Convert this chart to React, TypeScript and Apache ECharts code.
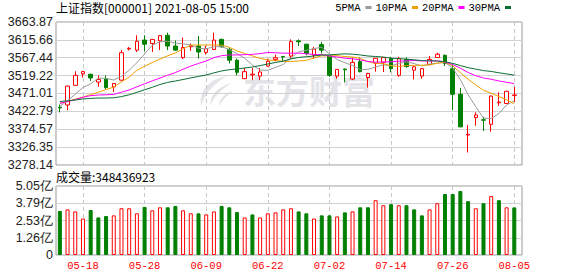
import React, { useEffect, useRef } from 'react';
import * as echarts from 'echarts';

const dates = ['05-13','05-14','05-17','05-18','05-19','05-20','05-21','05-24','05-25','05-26','05-27','05-28','05-31','06-01','06-02','06-03','06-04','06-07','06-08','06-09','06-10','06-11','06-15','06-16','06-17','06-18','06-21','06-22','06-23','06-24','06-25','06-28','06-29','06-30','07-01','07-02','07-05','07-06','07-07','07-08','07-09','07-12','07-13','07-14','07-15','07-16','07-19','07-20','07-21','07-22','07-23','07-26','07-27','07-28','07-29','07-30','08-02','08-03','08-04','08-05'];

const opens = [3434,3440,3493,3524,3523,3502,3510,3489,3507,3591,3588,3615,3606,3613,3628,3599,3568,3597,3599,3582,3590,3617,3590,3561,3511,3521,3518,3545,3563,3571,3572,3613,3604,3574,3603,3572,3518,3537,3510,3557,3514,3553,3555,3565,3520,3563,3534,3518,3549,3568,3574,3538,3469,3359,3406,3400,3388,3446,3444,3466];
const closes = [3432,3491,3520,3530,3513,3509,3487,3498,3581,3593,3612,3604,3617,3627,3599,3588,3595,3600,3583,3592,3615,3597,3561,3528,3530,3523,3529,3558,3567.5,3569.5,3611,3610.5,3579,3591,3588,3520,3536,3535,3555,3530,3525,3566,3568,3538,3565,3544,3543,3538,3563,3577,3552,3469,3381,3361,3413,3399,3464,3448,3477,3467];
const lows = [3420,3426,3491,3514,3505,3489,3483,3475,3505,3587,3583,3585,3583,3588,3588,3586,3564,3586,3565,3576,3588,3595,3552,3520,3510,3507,3507,3543,3558,3558,3565,3599,3574,3565,3579,3516,3511,3501,3507,3528,3487,3530,3529,3528,3516,3540,3509,3511,3548,3567,3545,3426,3380,3312,3384,3370,3368,3438,3443,3448];
const highs = [3441,3492,3531,3532,3524,3520,3520,3499,3588,3596,3628,3628,3618,3628,3635,3614,3622,3606,3626,3599,3635,3619,3595,3565,3540,3540,3540,3565,3576,3572,3617,3617,3605,3597,3610,3574,3537,3538,3568,3568,3527,3567,3569,3570,3570,3568,3545,3539,3572,3581,3576,3552,3486,3386,3420,3408,3466,3474,3478,3489];

// volume in 亿 (1e8)
const volumes = [3.22,3.34,3.19,2.67,3.29,2.75,2.85,2.90,3.42,3.42,3.05,3.52,3.27,3.49,3.49,3.59,3.27,3.05,3.05,2.97,3.19,3.59,3.49,3.14,2.75,2.97,2.75,3.05,3.12,3.34,3.42,3.19,3.05,2.67,2.90,2.90,2.82,3.12,3.19,3.49,3.49,4.01,3.64,3.72,3.64,3.64,3.34,2.90,3.34,3.79,4.46,4.46,4.68,3.94,3.42,3.79,4.31,4.01,3.49,3.48436923];

const ma5Head = [3436.7,3451.1,3469.5,3487.2];
const ma10Head = [3444.6,3449.5,3455.8,3461.3,3467.9,3474.6,3481.5,3488.5,3502.4];
const ma20Head = [3444.4,3449.2,3454.3,3460.9,3465.2,3466.8,3467.5,3468.7,3474.5,3480.5,3489.0,3497.1,3505.1,3512.7,3520.3,3527.6,3536.4,3545.0,3552.1];
const ma30Head = [3449.4,3451.3,3453.4,3456.3,3457.9,3458.7,3458.8,3459.4,3462.7,3467.5,3474.1,3481.0,3487.7,3495.3,3501.0,3504.7,3508.8,3513.0,3517.0,3520.9,3526.7,3531.8,3535.3,3537.1,3539.8,3542.5,3546.2,3550.6,3554.7];

const yTickLabels = ['3278.14','3326.35','3374.57','3422.79','3471.01','3519.22','3567.44','3615.66','3663.87'];
const volTickValues = [0, 1.2625, 2.525, 3.7875, 5.05];
const volTickLabels = ['0','1.26亿','2.53亿','3.79亿','5.05亿'];
const xLabelIndices = [3, 11, 19, 27, 35, 43, 51, 59];

const maNames = ['5PMA', '10PMA', '20PMA', '30PMA'];
const maColors = ['#9a9a9a', '#f0a000', '#ff00ff', '#0a6e32'];

const UP = '#ff0000';
const DOWN = '#008000';

const logoPath =
  'M29 0 C13 3 1 13 3 30 C7 18 15 8 29 0 Z ' +
  'M34 7 C21 10 12 18 12 30 C16 21 23 13 34 7 Z ' +
  'M35 15 C27 17 21 23 21 30 C24 25 28 20 35 15 Z';
echarts.graphic.registerShape('emLogo', echarts.graphic.extendPath(logoPath, {}));

function movingAverage(n: number, head: number[]) {
  return closes.map((_, i) => {
    if (i < n - 1) return head[i];
    let s = 0;
    for (let k = i - n + 1; k <= i; k++) s += closes[k];
    return +(s / n).toFixed(2);
  });
}

export default function App() {
  const ref = useRef<HTMLDivElement>(null);
  useEffect(() => {
    const chart = echarts.init(ref.current!, null, { renderer: 'svg' });
    const yVals = yTickLabels.map((s) => parseFloat(s));
    const mas = [movingAverage(5, ma5Head), movingAverage(10, ma10Head), movingAverage(20, ma20Head), movingAverage(30, ma30Head)];
    const labelFont = { fontFamily: 'Liberation Sans', fontSize: 12.5, color: '#222' };
    const option: any = {
      animation: false,
      backgroundColor: '#fff',
      title: [
        {
          text: '上证指数[000001] 2021-08-05 15:00',
          left: 56, top: 1, padding: 0,
          textStyle: { fontFamily: 'Noto Sans CJK SC', fontSize: 12, fontWeight: 'normal', color: '#000' },
        },
        {
          text: '成交量:' + Math.round(volumes[volumes.length - 1] * 1e8),
          left: 56, top: 170, padding: 0,
          textStyle: { fontFamily: 'Noto Sans CJK SC', fontSize: 12, fontWeight: 'normal', color: '#000' },
        },
      ],
      legend: {
        data: maNames,
        right: 67, top: 2, padding: 0,
        align: 'right', icon: 'rect', itemWidth: 6, itemHeight: 3, itemGap: 4,
        selectedMode: false,
        textStyle: { fontFamily: 'Liberation Mono', fontSize: 10.5, color: '#000' },
      },
      graphic: [
        { type: 'emLogo', x: 198, y: 76, scaleX: 1, scaleY: 1, z: -10, silent: true, style: { fill: '#e4e4e8' } },
        {
          type: 'text', x: 309, y: 90, z: -10, silent: true,
          style: { text: '东方财富', fill: '#e4e4e8', fontFamily: 'Noto Sans CJK SC', fontWeight: 'bold', fontSize: 33, align: 'center', verticalAlign: 'middle' },
        },
      ],
      grid: [
        { left: 56, top: 22, width: 466, height: 143, show: true, borderColor: '#999', borderWidth: 1, backgroundColor: 'transparent' },
        { left: 56, top: 186, width: 466, height: 69, show: true, borderColor: '#999', borderWidth: 1, backgroundColor: 'transparent' },
      ],
      xAxis: [0, 1].map((g) => ({
        type: 'value', gridIndex: g, min: -0.5, max: 60,
        axisLine: { show: false },
        axisTick: { show: false, customValues: xLabelIndices },
        axisLabel: {
          show: g === 1, customValues: xLabelIndices, margin: 5,
          formatter: (v: number) => dates[Math.round(v)],
          color: UP, fontFamily: 'Liberation Mono', fontSize: 10.5,
        },
        splitLine: { show: true, lineStyle: { color: '#c8c8c8', type: [4, 3], width: 1 } },
      })),
      yAxis: [
        {
          type: 'value', gridIndex: 0, min: yVals[0], max: yVals[yVals.length - 1], scale: true,
          axisLine: { show: false },
          axisTick: { show: false, customValues: yVals },
          axisLabel: { customValues: yVals, margin: 3, formatter: (v: number) => v.toFixed(2), ...labelFont },
          splitLine: { show: true, lineStyle: { color: '#d2d2d2', width: 1 } },
        },
        {
          type: 'value', gridIndex: 1, min: 0, max: 5.05,
          axisLine: { show: false },
          axisTick: { show: false, customValues: volTickValues },
          axisLabel: {
            customValues: volTickValues, margin: 3,
            formatter: (v: number) => {
              let best = 0;
              volTickValues.forEach((t, k) => { if (Math.abs(t - v) < Math.abs(volTickValues[best] - v)) best = k; });
              return volTickLabels[best];
            },
            ...labelFont,
          },
          splitLine: { show: true, lineStyle: { color: '#d2d2d2', width: 1 } },
        },
      ],
      series: [
        {
          type: 'candlestick', name: 'K', xAxisIndex: 0, yAxisIndex: 0, silent: true,
          barWidth: 4,
          data: dates.map((_, i) => [i, opens[i], closes[i], lows[i], highs[i]]),
          itemStyle: { color: '#ffffff', color0: DOWN, borderColor: UP, borderColor0: DOWN, borderWidth: 1 },
        },
        ...maNames.map((name, k) => ({
          type: 'line', name, xAxisIndex: 0, yAxisIndex: 0, silent: true,
          showSymbol: false, symbol: 'none', color: maColors[k],
          lineStyle: { color: maColors[k], width: 1 },
          data: mas[k].map((v, i) => [i, v]),
        })),
        {
          type: 'bar', name: 'VOL', xAxisIndex: 1, yAxisIndex: 1, silent: true, barWidth: 4,
          data: volumes.map((v, i) => {
            const up = i === 0 ? closes[i] >= opens[i] : closes[i] > closes[i - 1];
            return {
              value: [i, v],
              itemStyle: up
                ? { color: '#ffffff', borderColor: UP, borderWidth: 1 }
                : { color: DOWN, borderColor: DOWN, borderWidth: 1 },
            };
          }),
        },
      ],
    };
    chart.setOption(option);
    return () => chart.dispose();
  }, []);
  return <div ref={ref} style={{ position: 'fixed', left: 0, top: 0, width: 578, height: 276 }} />;
}
